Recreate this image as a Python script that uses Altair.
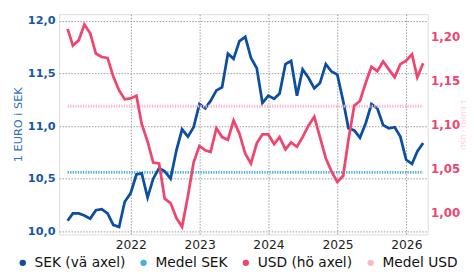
import altair as alt
import pandas as pd

# Monthly observations Jan 2021 .. Mar 2026 (plotted at month end)
first_month = "2021-02-01"
n_months = 63

sek = [10.10, 10.17, 10.17, 10.15, 10.12, 10.20, 10.21, 10.17, 10.06, 10.04,
       10.28, 10.36, 10.54, 10.55, 10.32, 10.50, 10.60, 10.57, 10.50, 10.77,
       10.97, 10.90, 10.99, 11.21, 11.17, 11.24, 11.34, 11.37, 11.69, 11.64,
       11.81, 11.85, 11.65, 11.55, 11.22, 11.29, 11.26, 11.31, 11.59, 11.62,
       11.29, 11.54, 11.46, 11.36, 11.41, 11.59, 11.52, 11.49, 11.24, 10.98,
       10.96, 10.89, 11.03, 11.21, 11.17, 11.01, 10.98, 10.99, 10.90, 10.68,
       10.64, 10.76, 10.84]

usd = [1.209, 1.190, 1.196, 1.214, 1.204, 1.181, 1.177, 1.176, 1.155, 1.139,
       1.129, 1.130, 1.133, 1.101, 1.081, 1.057, 1.056, 1.016, 1.011, 0.994,
       0.984, 1.019, 1.057, 1.076, 1.071, 1.069, 1.096, 1.086, 1.083, 1.105,
       1.090, 1.067, 1.056, 1.079, 1.089, 1.089, 1.078, 1.086, 1.072, 1.080,
       1.075, 1.086, 1.099, 1.109, 1.086, 1.062, 1.047, 1.035, 1.042, 1.083,
       1.122, 1.127, 1.148, 1.166, 1.161, 1.172, 1.163, 1.154, 1.169, 1.173,
       1.180, 1.154, 1.170]

sek_mean = 10.56
usd_mean = 1.121

series_names = ["SEK (vä axel)", "Medel SEK", "USD (hö axel)", "Medel USD"]
series_colors = ["#0b4ea2", "#4bb0d8", "#f0456f", "#f9b8ca"]

sek_ticks = [10.0, 10.5, 11.0, 11.5, 12.0]
usd_ticks = [1.00, 1.05, 1.10, 1.15, 1.20]
year_ticks = [2022, 2023, 2024, 2025, 2026]

dates = pd.date_range(first_month, periods=n_months, freq="MS") - pd.Timedelta(days=1)

df_sek = pd.DataFrame({"date": dates, "value": sek, "series": series_names[0]})
df_sek_m = pd.DataFrame({"date": dates, "value": [sek_mean] * n_months, "series": series_names[1]})
df_usd = pd.DataFrame({"date": dates, "value": usd, "series": series_names[2]})
df_usd_m = pd.DataFrame({"date": dates, "value": [usd_mean] * n_months, "series": series_names[3]})

FONT = "DejaVu Sans"

x_enc = alt.X(
    "date:T",
    scale=alt.Scale(domain=[alt.DateTime(year=2020, month=12, date=17),
                            alt.DateTime(year=2026, month=4, date=24)]),
    axis=alt.Axis(values=[alt.DateTime(year=y, month=1, date=1) for y in year_ticks],
                  format="%Y", title=None, grid=True, gridColor="#9a9a9a",
                  gridDash=[1.5, 1.5], gridWidth=1, domain=False, ticks=False,
                  labelFont=FONT, labelFontSize=12.5, labelColor="#222",
                  labelPadding=4),
)

color_scale = alt.Scale(domain=series_names, range=series_colors)

legend = alt.Legend(
    title=None, orient="none", direction="horizontal",
    legendX=-44, legendY=246, symbolType="circle", symbolSize=42,
    symbolStrokeWidth=0, symbolOpacity=1, labelFont=FONT, labelFontSize=14,
    labelColor="#111", columnPadding=11, labelOffset=5,
)

color_legend = alt.Color("series:N", scale=color_scale, legend=legend)
color_plain = alt.Color("series:N", scale=color_scale, legend=None)

left_axis = alt.Axis(
    orient="left", values=sek_ticks,
    labelExpr="replace(format(datum.value, '.1f'), '.', ',')",
    title="1 EURO i SEK", titleFont=FONT, titleFontSize=11.5,
    titleFontWeight="normal", titleColor="#2f6fbf", titlePadding=4,
    labelFont=FONT, labelFontSize=11.5, labelFontWeight="bold",
    labelColor="#1757a6", labelPadding=4, ticks=False, domain=False,
    grid=True, gridColor="#9a9a9a", gridDash=[1.5, 1.5], gridWidth=1,
)
right_axis = alt.Axis(
    orient="right", values=usd_ticks,
    labelExpr="replace(format(datum.value, '.2f'), '.', ',')",
    title="1 EURO i USD", titleFont=FONT, titleFontSize=7.5,
    titleFontWeight="normal", titleColor="#fad0dc", titlePadding=-1,
    labelFont=FONT, labelFontSize=12, labelFontWeight="bold",
    labelColor="#ef4571", labelPadding=3, ticks=False, domain=False,
    grid=False,
)

y_left = alt.Y("value:Q", scale=alt.Scale(domain=[9.97, 12.065], nice=False, zero=False),
               axis=left_axis)
y_right = alt.Y("value:Q", scale=alt.Scale(domain=[0.9754, 1.2257], nice=False, zero=False),
                axis=right_axis)

# invisible filled points that only provide the round legend symbols
legend_points = alt.Chart(df_sek).mark_circle().encode(
    x=x_enc, y=y_left, color=color_legend, opacity=alt.value(0))

sek_mean_line = alt.Chart(df_sek_m).mark_line(strokeWidth=3, strokeDash=[1.3, 1.3]).encode(
    x=x_enc, y=y_left, color=color_plain)
sek_line = alt.Chart(df_sek).mark_line(strokeWidth=2.8).encode(
    x=x_enc, y=y_left, color=color_plain)
usd_mean_line = alt.Chart(df_usd_m).mark_line(strokeWidth=3, strokeDash=[1.3, 1.3]).encode(
    x=x_enc, y=y_right, color=color_plain)
usd_line = alt.Chart(df_usd).mark_line(strokeWidth=2.8).encode(
    x=x_enc, y=y_right, color=color_plain)

left = alt.layer(legend_points, sek_mean_line, sek_line)
right = alt.layer(usd_mean_line, usd_line)

chart = alt.layer(left, right).resolve_scale(y="independent").properties(
    width=375, height=224,
    autosize=alt.AutoSizeParams(type="none"),
    padding={"left": 52, "top": 4, "right": 39, "bottom": 38},
).configure_view(stroke="#1a1a1a", strokeWidth=2).configure(background="white")

chart.save("out.html", embed_options={"renderer": "svg", "actions": False})
